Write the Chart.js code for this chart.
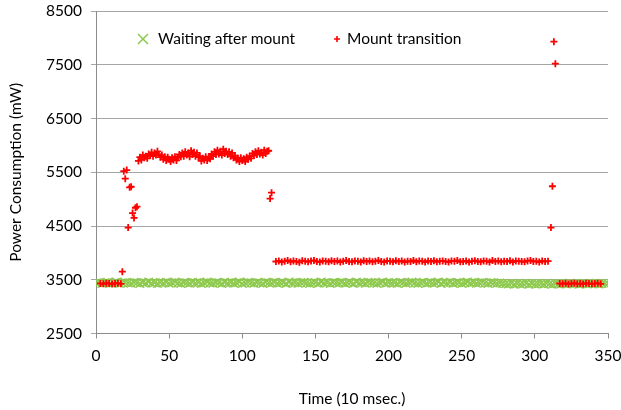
<!DOCTYPE html>
<html>
<head>
<meta charset="utf-8">
<script src="https://cdn.jsdelivr.net/npm/chart.js@4/dist/chart.umd.min.js"></script>
<style>
  html, body { margin: 0; padding: 0; background: #ffffff; }
  #wrap { width: 621px; height: 410px; }
</style>
</head>
<body>
<div id="wrap"><canvas id="chart" width="621" height="410"></canvas></div>
<script>
// Idle power while waiting after mount (time in 10 ms units, power in mW)
const waitTime = [
  0,2,4,6,8,10,12,14,16,18,20,22,24,26,28,30,32,34,36,38,
  40,42,44,46,48,50,52,54,56,58,60,62,64,66,68,70,72,74,76,78,
  80,82,84,86,88,90,92,94,96,98,100,102,104,106,108,110,112,114,116,118,
  120,122,124,126,128,130,132,134,136,138,140,142,144,146,148,150,152,154,156,158,
  160,162,164,166,168,170,172,174,176,178,180,182,184,186,188,190,192,194,196,198,
  200,202,204,206,208,210,212,214,216,218,220,222,224,226,228,230,232,234,236,238,
  240,242,244,246,248,250,252,254,256,258,260,262,264,266,268,270,272,274,276,278,
  280,282,284,286,288,290,292,294,296,298,300,302,304,306,308,310,312,314,316,318,
  320,322,324,326,328,330,332,334,336,338,340,342,344,346,348,350
];
const waitPower = [
  3440,3450,3430,3445,3455,3435,3440,3460,3430,3445,3450,3440,3435,3455,3445,3430,3450,3440,3460,3435,
  3445,3430,3450,3440,3455,3435,3445,3460,3440,3430,3450,3445,3435,3455,3440,3450,3430,3445,3460,3440,
  3435,3450,3445,3430,3455,3440,3450,3435,3445,3460,3430,3440,3455,3445,3435,3450,3440,3430,3455,3445,
  3440,3455,3435,3445,3450,3430,3460,3440,3445,3435,3450,3455,3440,3430,3445,3450,3435,3460,3440,3445,
  3430,3450,3445,3440,3455,3435,3445,3450,3430,3460,3440,3445,3435,3455,3450,3440,3430,3445,3460,3435,
  3450,3440,3445,3430,3455,3445,3435,3450,3460,3440,3430,3445,3455,3435,3450,3440,3445,3460,3430,3450,
  3440,3455,3435,3445,3450,3430,3445,3460,3440,3450,3435,3445,3455,3440,3430,3450,3445,3435,3440,3430,
  3425,3420,3435,3415,3430,3420,3425,3435,3415,3430,3420,3425,3430,3420,3435,3425,3415,3430,3420,3425,
  3430,3420,3435,3425,3430,3415,3425,3435,3420,3430,3425,3435,3420,3430,3425,3430
];

// Power during the mount transition
const transTime = [
  3,5,7,9,11,13,15,17,
  18,19,20,21,22,23,24,25,26,27,28,
  29,30,31,32,33,34,35,36,37,38,39,40,41,42,43,44,45,46,47,48,
  49,50,51,52,53,54,55,56,57,58,59,60,61,62,63,64,65,66,67,68,
  69,70,71,72,73,74,75,76,77,78,79,80,81,82,83,84,85,86,87,88,
  89,90,91,92,93,94,95,96,97,98,99,100,101,102,103,104,105,106,107,108,
  109,110,111,112,113,114,115,116,117,118,
  119,120,
  123,125,127,129,131,133,135,137,139,141,143,145,147,149,151,153,155,157,159,161,
  163,165,167,169,171,173,175,177,179,181,183,185,187,189,191,193,195,197,199,201,
  203,205,207,209,211,213,215,217,219,221,223,225,227,229,231,233,235,237,239,241,
  243,245,247,249,251,253,255,257,259,261,263,265,267,269,271,273,275,277,279,281,
  283,285,287,289,291,293,295,297,299,301,303,305,307,309,
  311,312,313,314,
  317,319,321,323,325,327,329,331,333,335,337,339,341,343,345
];
const transPower = [
  3430,3425,3435,3430,3420,3430,3435,3425,
  3650,5520,5380,5540,4470,5220,5230,4740,4650,4840,4860,
  5710,5780,5730,5820,5770,5800,5760,5840,5810,5870,5800,5860,5820,5890,5830,5780,5820,5740,5790,5720,
  5780,5740,5700,5770,5730,5790,5720,5770,5830,5790,5860,5800,5880,5820,5860,5790,5900,5830,5870,5800,
  5860,5780,5800,5710,5760,5730,5790,5720,5770,5750,5840,5800,5880,5830,5910,5840,5890,5820,5930,5850,
  5890,5830,5880,5800,5860,5770,5810,5730,5760,5700,5770,5720,5750,5700,5780,5740,5800,5760,5850,5810,
  5880,5830,5900,5840,5870,5820,5910,5850,5890,5900,
  5010,5120,
  3840,3850,3830,3845,3860,3835,3850,3840,3825,3855,3845,3835,3850,3860,3840,3830,3850,3845,3835,3855,
  3840,3850,3830,3845,3860,3840,3835,3850,3845,3830,3855,3840,3850,3835,3845,3860,3840,3830,3850,3845,
  3835,3855,3840,3850,3830,3845,3840,3860,3835,3850,3845,3830,3850,3840,3855,3835,3845,3850,3840,3830,
  3850,3845,3860,3835,3840,3850,3830,3845,3855,3840,3835,3850,3845,3830,3860,3840,3850,3835,3845,3840,
  3855,3830,3850,3845,3840,3835,3850,3860,3840,3845,3830,3850,3840,3845,
  4470,5240,7930,7520,
  3430,3425,3435,3420,3430,3435,3425,3430,3420,3435,3430,3425,3430,3435,3425
];

const seriesNames = ['Waiting after mount', 'Mount transition'];
const powerTicks = [2500, 3500, 4500, 5500, 6500, 7500, 8500];
const timeTicks = [0, 50, 100, 150, 200, 250, 300, 350];

const GREEN = '#8DC94D';
const RED = '#FF0000';
const FONT = 'Lato, "Liberation Sans", sans-serif';
const FONT_SIZE = 15.5;

const toPoints = (xs, ys) => xs.map((x, i) => ({ x, y: ys[i] }));

// Legend drawn inside the plot area, top left
const inlineLegend = {
  id: 'inlineLegend',
  afterDraw(chart) {
    const ctx = chart.ctx;
    const a = chart.chartArea;
    const y = a.top + 28;
    ctx.save();
    ctx.font = FONT_SIZE + 'px ' + FONT;
    ctx.fillStyle = '#000';
    ctx.textBaseline = 'middle';
    ctx.textAlign = 'left';
    // green x
    let cx = a.left + 47;
    ctx.strokeStyle = GREEN;
    ctx.lineWidth = 1.5;
    ctx.beginPath();
    ctx.moveTo(cx - 5, y - 5); ctx.lineTo(cx + 5, y + 5);
    ctx.moveTo(cx - 5, y + 5); ctx.lineTo(cx + 5, y - 5);
    ctx.stroke();
    ctx.fillText(seriesNames[0], cx + 15, y);
    // red +
    cx = a.left + 241;
    ctx.strokeStyle = RED;
    ctx.lineWidth = 1.6;
    ctx.beginPath();
    ctx.moveTo(cx - 3, y); ctx.lineTo(cx + 3, y);
    ctx.moveTo(cx, y - 3); ctx.lineTo(cx, y + 3);
    ctx.stroke();
    ctx.fillText(seriesNames[1], cx + 10, y);
    ctx.restore();
  }
};

const plainLabel = v => String(v);

new Chart(document.getElementById('chart'), {
  type: 'scatter',
  data: {
    datasets: [
      {
        label: seriesNames[0],
        data: toPoints(waitTime, waitPower),
        pointStyle: 'crossRot',
        pointRadius: 6,
        pointBorderWidth: 1.5,
        borderColor: GREEN,
        backgroundColor: GREEN,
        order: 1
      },
      {
        label: seriesNames[1],
        data: toPoints(transTime, transPower),
        pointStyle: 'cross',
        pointRadius: 3.5,
        pointBorderWidth: 1.8,
        borderColor: RED,
        backgroundColor: RED,
        order: 0
      }
    ]
  },
  options: {
    responsive: false,
    animation: false,
    events: [],
    layout: { padding: { top: 11, right: 13, left: 0, bottom: 0 } },
    plugins: {
      legend: { display: false },
      tooltip: { enabled: false }
    },
    scales: {
      x: {
        type: 'linear',
        min: timeTicks[0],
        max: timeTicks[timeTicks.length - 1],
        afterBuildTicks(s) { s.ticks = timeTicks.map(v => ({ value: v })); },
        afterFit(s) { s.height = 76.5; s.paddingLeft = 0; s.paddingRight = 0; },
        ticks: { color: '#000', font: { family: FONT, size: FONT_SIZE }, padding: 8, maxRotation: 0, callback: plainLabel },
        grid: { drawOnChartArea: false, drawTicks: true, tickLength: 5, color: '#8C8C8C' },
        border: { color: '#8C8C8C', width: 1 },
        title: {
          display: true, text: 'Time (10 msec.)', color: '#000',
          font: { family: FONT, size: FONT_SIZE }, padding: { top: 0, bottom: 2 }
        }
      },
      y: {
        type: 'linear',
        min: powerTicks[0],
        max: powerTicks[powerTicks.length - 1],
        afterBuildTicks(s) { s.ticks = powerTicks.map(v => ({ value: v })); },
        afterFit(s) { s.width = 96; s.paddingTop = 0; s.paddingBottom = 0; },
        ticks: { color: '#000', font: { family: FONT, size: FONT_SIZE }, padding: 9, callback: plainLabel },
        grid: { color: '#A6A6A6', lineWidth: 1, tickLength: 5 },
        border: { color: '#8C8C8C', width: 1 },
        title: {
          display: true, text: 'Power Consumption (mW)', color: '#000',
          font: { family: FONT, size: FONT_SIZE }, padding: { top: 7, bottom: 0 }
        }
      }
    }
  },
  plugins: [inlineLegend]
});
</script>
</body>
</html>
